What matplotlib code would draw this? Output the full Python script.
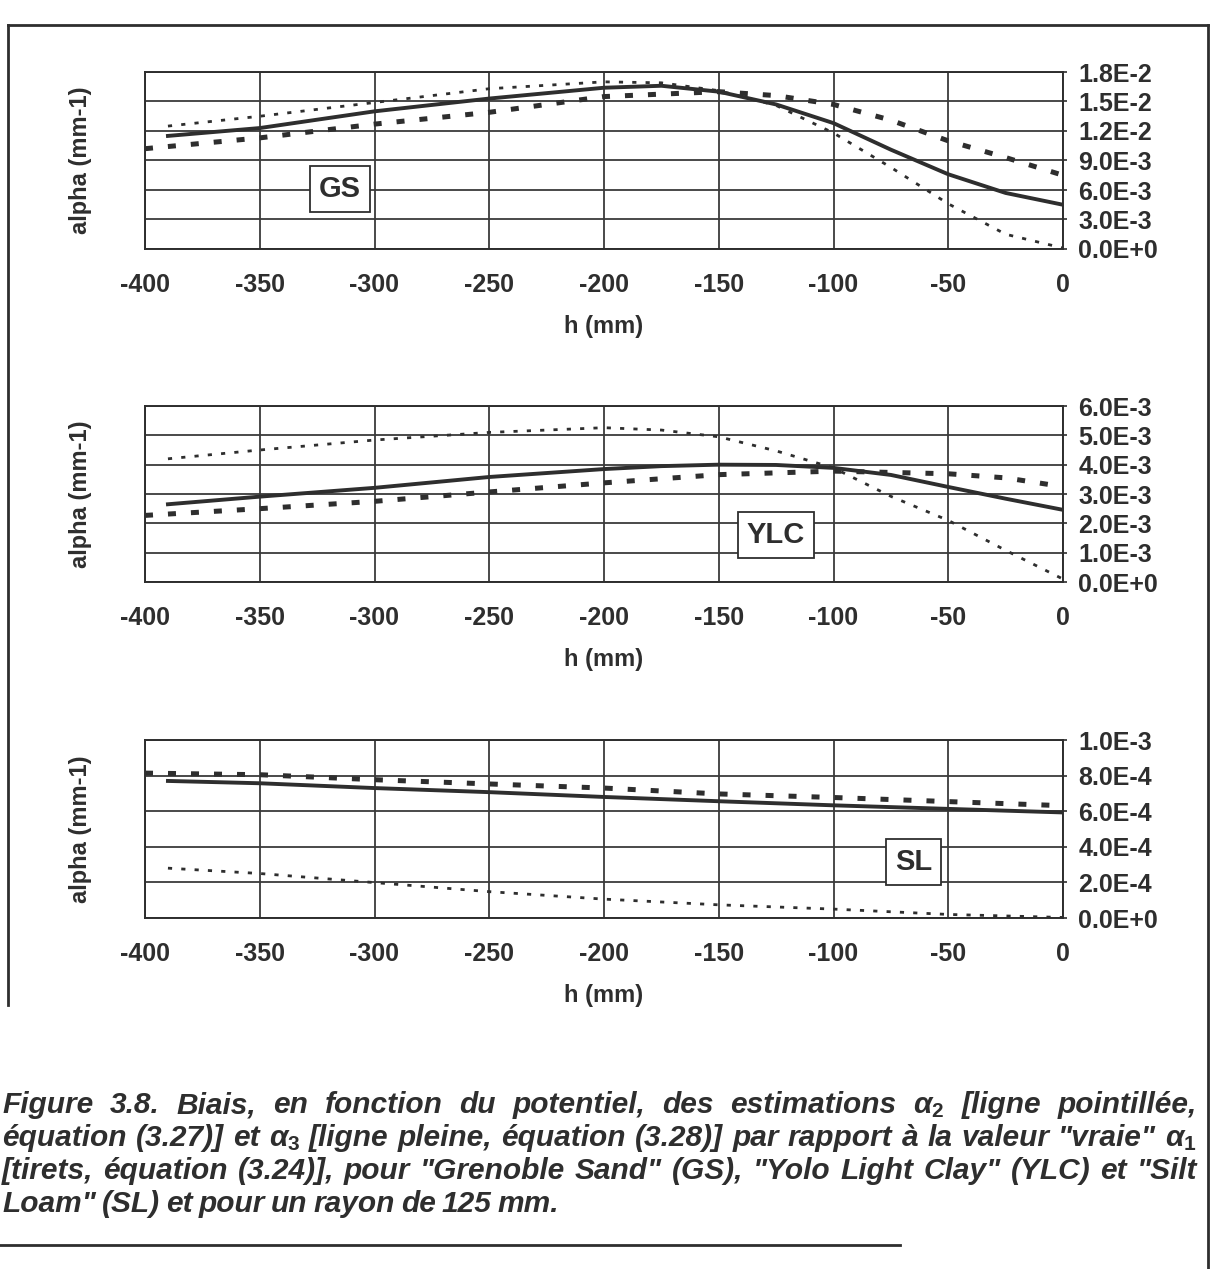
import numpy as np
import matplotlib
matplotlib.use('Agg')
import matplotlib.pyplot as plt
from matplotlib.ticker import MultipleLocator, FuncFormatter
from matplotlib.lines import Line2D

plt.rcParams['font.family'] = ['Liberation Sans', 'DejaVu Sans']
plt.rcParams['font.weight'] = 'bold'
plt.rcParams['axes.labelweight'] = 'bold'
plt.rcParams['axes.unicode_minus'] = False
plt.rcParams['mathtext.fontset'] = 'custom'
plt.rcParams['mathtext.rm'] = 'Liberation Sans:bold'
plt.rcParams['mathtext.it'] = 'Liberation Sans:italic:bold'
plt.rcParams['mathtext.bf'] = 'Liberation Sans:bold'

INK = '#2e2e2e'
W, H = 1219, 1269

# Grenoble Sand (values in 1E-3 mm-1)
gs_h = [-390, -350, -300, -250, -200, -175, -150, -125, -100, -75, -50, -25, 0]
gs_a2 = [12.5, 13.5, 14.9, 16.3, 17.0, 16.9, 16.1, 14.6, 11.8, 8.3, 4.6, 1.5, 0.1]
gs_a3 = [11.5, 12.3, 14.0, 15.3, 16.4, 16.6, 16.0, 14.7, 12.8, 10.1, 7.6, 5.7, 4.5]
gs_h1 = [-400, -350, -300, -250, -200, -150, -125, -100, -75, -50, -25, 0]
gs_a1 = [10.2, 11.3, 12.7, 13.9, 15.5, 16.0, 15.6, 14.7, 13.1, 11.0, 9.3, 7.5]

# Yolo Light Clay (1E-3 mm-1)
ylc_h = [-390, -350, -300, -250, -200, -175, -150, -125, -100, -75, -50, -25, 0]
ylc_a2 = [4.2, 4.5, 4.84, 5.1, 5.26, 5.18, 4.95, 4.47, 3.89, 2.92, 2.1, 1.08, 0.1]
ylc_a3 = [2.65, 2.91, 3.21, 3.58, 3.85, 3.95, 4.0, 3.99, 3.89, 3.65, 3.24, 2.84, 2.46]
ylc_h1 = [-400, -350, -300, -250, -200, -150, -100, -50, -25, 0]
ylc_a1 = [2.27, 2.5, 2.75, 3.07, 3.38, 3.66, 3.78, 3.69, 3.55, 3.25]

# Silt Loam (1E-4 mm-1)
sl_h = [-390, -350, -300, -250, -200, -150, -100, -50, 0]
sl_a2 = [2.8, 2.5, 1.99, 1.48, 1.06, 0.74, 0.5, 0.2, 0.03]
sl_a3 = [7.7, 7.57, 7.3, 7.07, 6.8, 6.56, 6.33, 6.13, 5.93]
sl_h1 = [-400, -350, -300, -250, -200, -150, -100, -50, 0]
sl_a1 = [8.14, 8.05, 7.77, 7.53, 7.3, 6.97, 6.77, 6.54, 6.31]

labels = ['GS', 'YLC', 'SL']
label_h = [-315, -125, -65]
label_v = [6.1e-3, 1.6e-3, 3.15e-4]
y_max = [0.018, 0.006, 0.001]
y_step = [0.003, 0.001, 0.0002]

series = [
    (gs_h, gs_a2, gs_a3, gs_h1, gs_a1, 1e-3),
    (ylc_h, ylc_a2, ylc_a3, ylc_h1, ylc_a1, 1e-3),
    (sl_h, sl_a2, sl_a3, sl_h1, sl_a1, 1e-4),
]
# pixel top/bottom of each plot area
rows = [(72, 249), (406, 582), (740, 918)]


def sci(v, pos):
    m, e = f'{v:.1E}'.split('E')
    return f'{m}E{int(e):+d}'


fig = plt.figure(figsize=(W / 100, H / 100), dpi=100)

for i, (h, a2, a3, h1, a1, sc) in enumerate(series):
    top, bot = rows[i]
    ax = fig.add_axes([145 / W, 1 - bot / H, 918 / W, (bot - top) / H])
    ax.plot(h, np.array(a2) * sc, color=INK, lw=2.0, linestyle=(0, (1.5, 3.3)), zorder=3)
    ax.plot(h, np.array(a3) * sc, color=INK, lw=2.8, zorder=3)
    ax.plot(h1, np.array(a1) * sc, color=INK, lw=3.6, linestyle=(0, (1.6, 3.0)), zorder=3)
    ax.set_xlim(-400, 0)
    ax.set_ylim(0, y_max[i])
    ax.xaxis.set_major_locator(MultipleLocator(50))
    ax.yaxis.set_major_locator(MultipleLocator(y_step[i]))
    ax.yaxis.set_major_formatter(FuncFormatter(sci))
    ax.grid(True, color='#3a3a3a', lw=1.3)
    ax.set_axisbelow(True)
    for s in ax.spines.values():
        s.set_color(INK)
        s.set_linewidth(1.4)
    ax.tick_params(axis='y', left=False, right=True, labelleft=False, labelright=True,
                   length=3, width=1.2, pad=8, labelsize=18, colors=INK)
    ax.tick_params(axis='x', length=0, pad=17, labelsize=18, colors=INK)
    ax.set_xlabel('h (mm)', fontsize=17, color=INK)
    ax.xaxis.set_label_coords(0.5, -0.373)
    ax.set_ylabel('alpha (mm-1)', fontsize=17, color=INK)
    ax.yaxis.set_label_coords(-0.058, 0.5)
    ax.text(label_h[i], label_v[i], labels[i], ha='center', va='center', fontsize=21,
            fontweight='bold', color=INK, zorder=6,
            bbox=dict(boxstyle='square,pad=0.3', fc='white', ec=INK, lw=1.3))

# caption, justified like the original
cap_lines = [
    'Figure 3.8. Biais, en fonction du potentiel, des estimations $\\alpha_2$ [ligne pointillée,',
    'équation (3.27)] et $\\alpha_3$ [ligne pleine, équation (3.28)] par rapport à la valeur "vraie" $\\alpha_1$',
    '[tirets, équation (3.24)], pour "Grenoble Sand" (GS), "Yolo Light Clay" (YLC) et "Silt',
    'Loam" (SL) et pour un rayon de 125 mm.',
]
cap_base = [1113, 1146, 1179, 1212]
cap_size = 21.5
renderer = fig.canvas.get_renderer()
for k, line in enumerate(cap_lines):
    words = line.split(' ')
    ts = [fig.text(0, 1 - cap_base[k] / H, w, fontsize=cap_size, style='italic', weight='bold',
                   color=INK, va='baseline') for w in words]
    ws = [t.get_window_extent(renderer).width for t in ts]
    space = 0.2 * cap_size * 100 / 72
    gap = space
    if k < 3:
        gap = max(space, (1197 - 2 - sum(ws)) / (len(ws) - 1))
    x = 2
    for t, w in zip(ts, ws):
        t.set_x(x / W)
        x += w + gap

# scanned page frame
frame = [([8, 1208], [25, 25]), ([8, 8], [25, 1005]),
         ([1208, 1208], [25, 1269]), ([0, 900], [1245, 1245])]
for xs, ys in frame:
    fig.add_artist(Line2D([x / W for x in xs], [1 - y / H for y in ys], color=INK, lw=2))

fig.savefig('out.png', dpi=100)
